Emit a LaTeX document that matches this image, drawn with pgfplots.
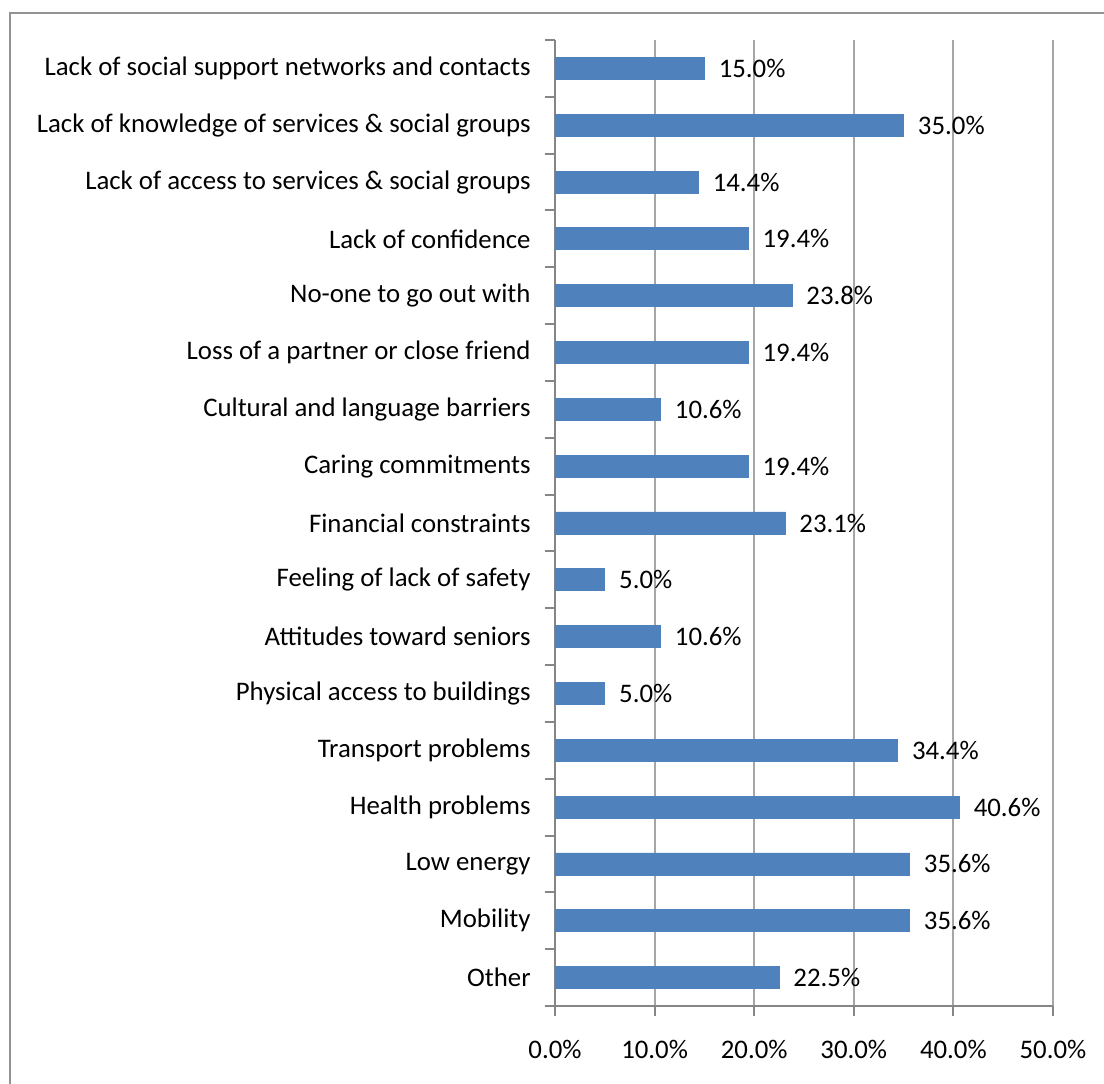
\documentclass[border=0pt]{standalone}
\usepackage{pgfplots}
\usepackage{pgfplotstable}
\pgfplotsset{compat=1.18}
\usepackage{fontspec}
\setmainfont{Carlito}
\definecolor{barblue}{HTML}{4F81BD}
\definecolor{gridgray}{HTML}{A6A6A6}
\definecolor{axgray}{HTML}{868686}
\pgfplotstableread{
y x lab
0 22.5 22.5
1 35.6 35.6
2 35.6 35.6
3 40.6 40.6
4 34.4 34.4
5 5.0 5.0
6 10.6 10.6
7 5.0 5.0
8 23.1 23.1
9 19.4 19.4
10 10.6 10.6
11 19.4 19.4
12 23.8 23.8
13 19.4 19.4
14 14.4 14.4
15 35.0 35.0
16 15.0 15.0
}\datatable
\begin{document}
\fontsize{13.4}{15.5}\selectfont
\begin{tikzpicture}
\useasboundingbox (0,0) rectangle (552pt,541.5pt);
\clip (0,0) rectangle (552pt,541.5pt);
\draw[draw=gray!85, line width=1.4pt] (5pt,-5pt) -- (5pt,535pt) -- (560pt,535pt);
\begin{axis}[
  at={(277.5pt,38.5pt)}, anchor=south west,
  scale only axis, width=249pt, height=483pt,
  xbar, bar width=11pt,
  xmin=0, xmax=50, ymin=-0.5, ymax=16.5,
  axis lines*=left, axis line style={-, draw=axgray, line width=1pt},
  tick align=outside, major tick length=5pt,
  tick style={draw=axgray, line width=1pt},
  xtick={0,10,...,50},
  xticklabels={0.0\%,10.0\%,20.0\%,30.0\%,40.0\%,50.0\%},
  xticklabel style={anchor=north, inner sep=0pt, yshift=-12pt},
  xmajorgrids, grid style={draw=gridgray, line width=1pt},
  ytick={-0.5,0.5,...,16.5}, yticklabels={},
  ymajorgrids=false,
  extra y ticks={0,...,16},
  extra y tick labels={Other,Mobility,Low energy,Health problems,Transport problems,Physical access to buildings,Attitudes toward seniors,Feeling of lack of safety,Financial constraints,Caring commitments,Cultural and language barriers,Loss of a partner or close friend,No-one to go out with,Lack of confidence,Lack of access to services \& social groups,Lack of knowledge of services \& social groups,Lack of social support networks and contacts},
  extra y tick style={major tick length=0pt, yticklabel style={anchor=east, inner sep=0pt, xshift=-12pt}},
  point meta=explicit symbolic,
  nodes near coords={\pgfplotspointmeta\%},
  every node near coord/.append style={anchor=west, inner sep=0pt, xshift=7pt, text=black},
  clip=false,
]
\addplot[fill=barblue, draw=barblue] table[x=x, y=y, meta=lab] {\datatable};
\end{axis}
\end{tikzpicture}
\end{document}
